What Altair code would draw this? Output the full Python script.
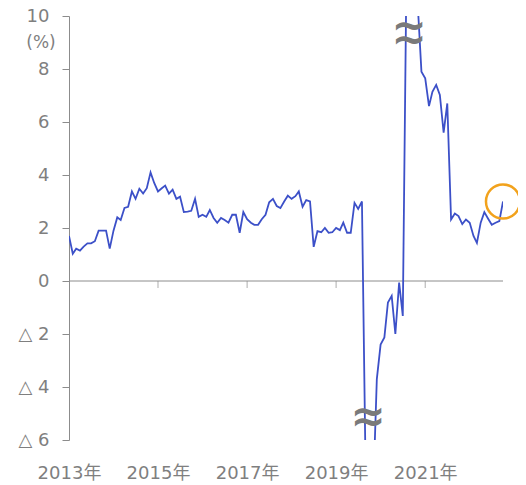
import altair as alt
import pandas as pd

# monthly series, Jan 2013 .. Oct 2022 (beyond-axis values clipped)
values = [
    1.7, 1.03, 1.22, 1.15, 1.3, 1.42, 1.42, 1.5, 1.9, 1.9, 1.9, 1.22,
    1.9, 2.4, 2.3, 2.76, 2.8, 3.38, 3.1, 3.48, 3.3, 3.5, 4.1, 3.7,
    3.38, 3.5, 3.6, 3.3, 3.45, 3.1, 3.18, 2.6, 2.62, 2.65, 3.1, 2.42,
    2.5, 2.42, 2.68, 2.38, 2.2, 2.38, 2.3, 2.2, 2.5, 2.5, 1.82, 2.6,
    2.33, 2.2, 2.12, 2.12, 2.33, 2.5, 2.97, 3.1, 2.83, 2.75, 3.0, 3.22,
    3.1, 3.2, 3.38, 2.8, 3.05, 3.0, 1.29, 1.88, 1.84, 2.0, 1.82, 1.84,
    2.0, 1.92, 2.2, 1.82, 1.82, 2.95, 2.72, 3.0, -7.5, -18.0, -8.0, -3.7,
    -2.4, -2.13, -0.81, -0.56, -2.0, -0.06, -1.32, 12.0, 22.0, 18.0, 10.4, 7.9,
    7.65, 6.6, 7.14, 7.4, 7.02, 5.6, 6.7, 2.32, 2.55, 2.45, 2.15, 2.32,
    2.2, 1.7, 1.44, 2.2, 2.6, 2.35, 2.12, 2.2, 2.26, 3.0,
]
dates = pd.date_range("2013-01-01", periods=len(values), freq="MS")

tick_years = [2013, 2015, 2017, 2019, 2021]
y_ticks = [-6, -4, -2, 0, 2, 4, 6, 8, 10]

# axis-break marks ("≈") where the series leaves the axis range
break_dates = ["2020-08-22", "2020-08-22", "2019-09-20", "2019-09-20"]
break_y = [9.6, 9.05, -4.98, -5.36]

df = pd.DataFrame({"date": dates, "value": values})
last = df.tail(1)
ticks_df = pd.DataFrame({"date": [pd.Timestamp(f"{y}-01-01") for y in tick_years[1:]]})
breaks_df = pd.DataFrame({"date": pd.to_datetime(break_dates), "y": break_y})
one = pd.DataFrame({"k": [0]})

FONT = "DejaVu Sans, Noto Sans CJK JP"
GRAY = "#8c8c8c"
LABEL = "#7f7f7f"

xscale = alt.Scale(domain=[alt.DateTime(year=2013, month=1, date=1),
                           alt.DateTime(year=2022, month=10, date=1)])
yscale = alt.Scale(domain=[-6, 10], nice=False)

x_axis = alt.Axis(
    values=[alt.DateTime(year=y, month=1, date=1) for y in tick_years],
    format="%Y年", title=None, domain=False, ticks=False, grid=False,
    labelPadding=24, labelFontSize=18, labelFont=FONT, labelColor=LABEL,
    labelFlush=False, labelOverlap=False,
)
y_axis = alt.Axis(
    values=y_ticks, title=None, grid=False,
    labelExpr="datum.value < 0 ? '△ ' + abs(datum.value) : '' + datum.value",
    tickSize=7, tickColor=GRAY, domainColor=GRAY, labelPadding=13,
    labelFontSize=18, labelFont=FONT, labelColor=LABEL,
)

zero = alt.Chart(one).mark_rule(color=GRAY, strokeWidth=1).encode(
    y=alt.datum(0, scale=yscale)
)

xt = alt.Chart(ticks_df).mark_tick(
    color=GRAY, thickness=1, size=7, orient="vertical", yOffset=3.5
).encode(x=alt.X("date:T", scale=xscale, axis=x_axis), y=alt.datum(0, scale=yscale))

line = alt.Chart(df).mark_line(color="#3c50c8", strokeWidth=1.8, clip=True).encode(
    x=alt.X("date:T", scale=xscale, axis=x_axis),
    y=alt.Y("value:Q", scale=yscale, axis=y_axis),
)

circle = alt.Chart(last).mark_point(
    shape="circle", filled=False, size=1160, stroke="#f2a21c", strokeWidth=2.5, opacity=1
).encode(x=alt.X("date:T", scale=xscale), y=alt.Y("value:Q", scale=yscale))

brk = alt.Chart(breaks_df).mark_text(
    text="~", font="DejaVu Sans", fontSize=42, fontWeight="bold", color="#7a7a7a",
    align="center", baseline="middle",
).encode(x=alt.X("date:T", scale=xscale), y=alt.Y("y:Q", scale=yscale))

unit = alt.Chart(one).mark_text(
    text="(%)", font=FONT, fontSize=17, color=LABEL, align="center", baseline="middle"
).encode(x=alt.value(-28), y=alt.value(26.5))

chart = alt.layer(zero, xt, line, circle, brk, unit).properties(
    width=434, height=424,
    autosize=alt.AutoSizeParams(type="none"),
    padding={"left": 61, "top": 8, "right": 15, "bottom": 45},
).configure_view(stroke=None)

chart.save("out.html", embed_options={"renderer": "svg", "actions": False})
